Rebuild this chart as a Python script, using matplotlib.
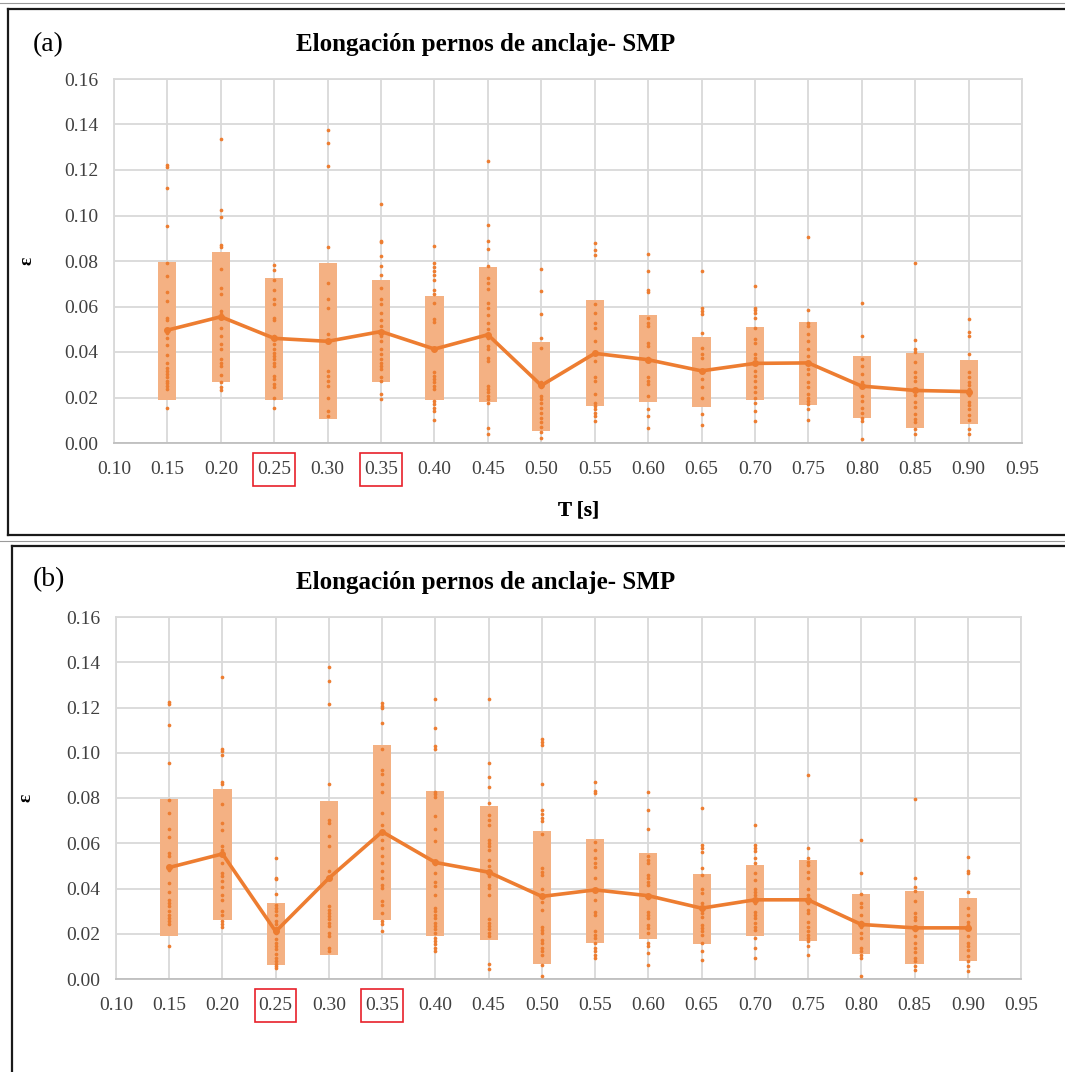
import matplotlib
matplotlib.use("Agg")
import matplotlib.pyplot as plt
from matplotlib.lines import Line2D
from matplotlib.patches import Rectangle
from matplotlib.transforms import blended_transform_factory

plt.rcParams['font.family'] = ['Liberation Serif', 'DejaVu Serif']

# ---------------- data ----------------
T = [0.15, 0.20, 0.25, 0.30, 0.35, 0.40, 0.45, 0.50, 0.55, 0.60,
     0.65, 0.70, 0.75, 0.80, 0.85, 0.90]
x_ticks = [0.10, 0.15, 0.20, 0.25, 0.30, 0.35, 0.40, 0.45, 0.50, 0.55,
           0.60, 0.65, 0.70, 0.75, 0.80, 0.85, 0.90, 0.95]
y_ticks = [0.00, 0.02, 0.04, 0.06, 0.08, 0.10, 0.12, 0.14, 0.16]
highlight_ticks = [0.25, 0.35]

title = "Elongación pernos de anclaje- SMP"
x_label = "T [s]"
y_label = "ε"
panel_labels = ["(a)", "(b)"]

# panel (a)
a_low = [0.0191, 0.0267, 0.0191, 0.0104, 0.0267, 0.0190, 0.0180, 0.0053,
         0.0162, 0.0180, 0.0159, 0.0190, 0.0169, 0.0110, 0.0067, 0.0083]
a_high = [0.0796, 0.0839, 0.0724, 0.0790, 0.0717, 0.0644, 0.0775, 0.0442,
          0.0629, 0.0562, 0.0467, 0.0512, 0.0534, 0.0384, 0.0394, 0.0366]
a_mean = [0.0496, 0.0555, 0.0460, 0.0447, 0.0490, 0.0413, 0.0476, 0.0253,
          0.0394, 0.0366, 0.0317, 0.0350, 0.0352, 0.0250, 0.0231, 0.0226]
a_pts = [
    [0.1222, 0.1215, 0.112, 0.0952, 0.0791, 0.0736, 0.0663, 0.0623, 0.055, 0.054,
     0.0492, 0.0485, 0.0463, 0.043, 0.0385, 0.0353, 0.0331, 0.0317, 0.0302, 0.0288,
     0.0273, 0.0263, 0.0251, 0.0239, 0.0152],
    [0.1336, 0.1022, 0.0993, 0.0869, 0.086, 0.0765, 0.0682, 0.0656, 0.058, 0.0569,
     0.055, 0.0507, 0.047, 0.0437, 0.0412, 0.0368, 0.0353, 0.0339, 0.0298, 0.0266,
     0.0248, 0.0234],
    [0.0781, 0.0762, 0.0715, 0.0672, 0.0634, 0.0609, 0.055, 0.054, 0.047, 0.0434,
     0.0412, 0.0397, 0.0383, 0.0368, 0.0353, 0.0339, 0.0295, 0.028, 0.0258, 0.0244,
     0.020, 0.0156],
    [0.1378, 0.132, 0.1218, 0.086, 0.0704, 0.0631, 0.0594, 0.0477, 0.0317, 0.0295,
     0.0273, 0.0251, 0.020, 0.0142, 0.012],
    [0.1051, 0.0889, 0.0882, 0.0823, 0.078, 0.074, 0.0682, 0.0634, 0.0609, 0.0572,
     0.054, 0.0514, 0.0492, 0.047, 0.0448, 0.0415, 0.039, 0.0368, 0.0353, 0.0339,
     0.0324, 0.0288, 0.0273, 0.0215, 0.0193],
    [0.0867, 0.0791, 0.0774, 0.0755, 0.074, 0.0718, 0.0672, 0.0657, 0.0616, 0.0543,
     0.0531, 0.0415, 0.031, 0.0295, 0.028, 0.0266, 0.0251, 0.0237, 0.0185, 0.0171,
     0.0156, 0.0142, 0.0102],
    [0.1241, 0.0959, 0.0889, 0.0853, 0.0777, 0.0726, 0.0704, 0.0675, 0.0616, 0.0594,
     0.0561, 0.0529, 0.0499, 0.0463, 0.0426, 0.0412, 0.0375, 0.0361, 0.0251, 0.0237,
     0.0222, 0.0207, 0.0193, 0.0178, 0.0064, 0.0039],
    [0.0765, 0.0667, 0.0565, 0.0463, 0.0419, 0.0266, 0.0244, 0.0207, 0.0193, 0.0178,
     0.0156, 0.0134, 0.0112, 0.0091, 0.0069, 0.0047, 0.002],
    [0.0879, 0.085, 0.0828, 0.0609, 0.0572, 0.0526, 0.0507, 0.0448, 0.0397, 0.0361,
     0.0288, 0.0273, 0.0215, 0.0178, 0.0164, 0.0149, 0.0134, 0.012, 0.0098],
    [0.0832, 0.0755, 0.0672, 0.0663, 0.055, 0.0529, 0.0514, 0.0441, 0.0426, 0.0375,
     0.0288, 0.0273, 0.0258, 0.0207, 0.0149, 0.012, 0.0064],
    [0.0758, 0.0594, 0.058, 0.0565, 0.0482, 0.0419, 0.039, 0.0375, 0.0317, 0.028,
     0.0244, 0.020, 0.0127, 0.0079],
    [0.0689, 0.0594, 0.0584, 0.0572, 0.055, 0.0507, 0.0456, 0.0441, 0.039, 0.0375,
     0.0353, 0.0317, 0.0295, 0.0273, 0.0244, 0.0222, 0.020, 0.0178, 0.0142, 0.0098],
    [0.0905, 0.0584, 0.0529, 0.0514, 0.0477, 0.0448, 0.0412, 0.0383, 0.0353, 0.0324,
     0.0302, 0.0266, 0.0244, 0.0215, 0.020, 0.0185, 0.0171, 0.0149, 0.0102],
    [0.0616, 0.047, 0.0371, 0.0339, 0.0302, 0.0266, 0.0244, 0.0207, 0.0185, 0.0156,
     0.0134, 0.0112, 0.0098, 0.0018],
    [0.079, 0.0454, 0.0413, 0.0399, 0.0355, 0.0311, 0.0289, 0.0274, 0.0238, 0.0209,
     0.018, 0.0158, 0.0128, 0.0107, 0.0092, 0.0063, 0.0041],
    [0.0545, 0.0486, 0.0472, 0.0391, 0.0311, 0.0289, 0.0267, 0.0253, 0.0238, 0.0209,
     0.018, 0.0165, 0.015, 0.0121, 0.0099, 0.0063, 0.0041],
]

# panel (b)
b_low = [0.0191, 0.0262, 0.0060, 0.0104, 0.0262, 0.0191, 0.0174, 0.0068,
         0.0160, 0.0175, 0.0153, 0.0191, 0.0168, 0.0110, 0.0068, 0.0081]
b_high = [0.0794, 0.0840, 0.0338, 0.0787, 0.1036, 0.0833, 0.0766, 0.0656,
          0.0619, 0.0556, 0.0462, 0.0506, 0.0528, 0.0375, 0.0391, 0.0360]
b_mean = [0.0493, 0.0553, 0.0210, 0.0446, 0.0651, 0.0515, 0.0472, 0.0365,
          0.0394, 0.0368, 0.0313, 0.0350, 0.0350, 0.0241, 0.0226, 0.0226]
b_pts = [
    [0.1225, 0.1215, 0.1123, 0.0956, 0.0791, 0.0735, 0.0663, 0.0627, 0.0557, 0.0545,
     0.049, 0.048, 0.0425, 0.0384, 0.0351, 0.0337, 0.0322, 0.030, 0.0285, 0.0271,
     0.0256, 0.0242, 0.0146],
    [0.1337, 0.1018, 0.1007, 0.0988, 0.0871, 0.0864, 0.0772, 0.0688, 0.0659, 0.0586,
     0.0571, 0.0549, 0.0512, 0.0469, 0.0454, 0.0432, 0.0406, 0.0373, 0.0351, 0.030,
     0.0285, 0.0256, 0.0242, 0.0231],
    [0.0534, 0.0447, 0.0442, 0.0376, 0.0329, 0.0315, 0.030, 0.0285, 0.0256, 0.0242,
     0.0227, 0.0205, 0.0176, 0.0161, 0.0146, 0.0132, 0.011, 0.0095, 0.0081, 0.0066,
     0.0056, 0.0047],
    [0.1381, 0.1318, 0.1215, 0.0864, 0.0703, 0.0688, 0.0634, 0.059, 0.0476, 0.0447,
     0.0322, 0.0307, 0.0293, 0.0278, 0.0264, 0.0249, 0.0234, 0.0205, 0.019, 0.0139,
     0.0124],
    [0.1218, 0.1208, 0.1198, 0.113, 0.1015, 0.0922, 0.0908, 0.0864, 0.0827, 0.0735,
     0.0681, 0.0652, 0.0615, 0.0578, 0.0542, 0.0512, 0.0476, 0.0447, 0.0417, 0.0403,
     0.0344, 0.0329, 0.0293, 0.0256, 0.0242, 0.0212],
    [0.1237, 0.1108, 0.1032, 0.1018, 0.0827, 0.0817, 0.0805, 0.072, 0.0663, 0.0611,
     0.051, 0.0469, 0.0428, 0.0413, 0.0373, 0.0315, 0.030, 0.0285, 0.0271, 0.0249,
     0.0234, 0.022, 0.0205, 0.0183, 0.0168, 0.0154, 0.0139, 0.0124],
    [0.1237, 0.0956, 0.0893, 0.0849, 0.0779, 0.0725, 0.0703, 0.0681, 0.0615, 0.060,
     0.0586, 0.0571, 0.0527, 0.0498, 0.0454, 0.0417, 0.0403, 0.0373, 0.0264, 0.0249,
     0.0234, 0.022, 0.0205, 0.019, 0.0066, 0.0044],
    [0.1061, 0.1049, 0.1035, 0.0863, 0.0748, 0.0731, 0.0713, 0.0697, 0.064, 0.0489,
     0.0474, 0.0459, 0.0396, 0.0342, 0.0305, 0.0232, 0.0217, 0.0203, 0.0173, 0.0158,
     0.0136, 0.0122, 0.0107, 0.0063, 0.0015],
    [0.087, 0.0833, 0.0822, 0.0606, 0.0569, 0.0533, 0.0511, 0.0496, 0.0445, 0.0393,
     0.0349, 0.0298, 0.0283, 0.021, 0.0195, 0.018, 0.0158, 0.0136, 0.0122, 0.0107,
     0.0092],
    [0.0826, 0.0748, 0.0662, 0.0543, 0.0528, 0.0511, 0.0459, 0.0445, 0.043, 0.0415,
     0.0357, 0.0298, 0.0283, 0.0269, 0.0239, 0.0225, 0.0203, 0.0158, 0.0144, 0.0114,
     0.0063],
    [0.0756, 0.0591, 0.0577, 0.0562, 0.0489, 0.0459, 0.040, 0.0379, 0.0335, 0.0305,
     0.0291, 0.0276, 0.0239, 0.0225, 0.021, 0.0195, 0.0158, 0.0122, 0.0085],
    [0.0682, 0.0591, 0.0581, 0.0566, 0.0533, 0.0511, 0.0467, 0.0437, 0.040, 0.0386,
     0.0371, 0.0335, 0.0298, 0.0283, 0.0269, 0.0247, 0.0232, 0.0217, 0.018, 0.0136,
     0.0092],
    [0.090, 0.0581, 0.0533, 0.0518, 0.0503, 0.0474, 0.0445, 0.040, 0.0371, 0.0335,
     0.0305, 0.0291, 0.0254, 0.0232, 0.021, 0.0195, 0.018, 0.0166, 0.0144, 0.0107],
    [0.0613, 0.0467, 0.0376, 0.0335, 0.032, 0.0283, 0.0254, 0.0232, 0.0203, 0.018,
     0.0136, 0.0122, 0.0107, 0.0092, 0.0015],
    [0.0794, 0.0446, 0.0406, 0.0391, 0.0343, 0.0291, 0.0276, 0.0262, 0.0218, 0.0188,
     0.0159, 0.0137, 0.0118, 0.0093, 0.0078, 0.0056, 0.0041],
    [0.0541, 0.0478, 0.0468, 0.0384, 0.0313, 0.0284, 0.0254, 0.024, 0.0225, 0.0188,
     0.0159, 0.0144, 0.0129, 0.010, 0.0078, 0.0056, 0.0034],
]

# ---------------- styling ----------------
W, H = 1065, 1072
LINE_C = '#ED7D31'
BAR_C = '#F4B183'
GRID_C = '#D9D9D9'
TICK_C = '#404040'

fig = plt.figure(figsize=(W / 100, H / 100), dpi=100)
fig.patch.set_facecolor('white')


def fx(px):
    return px / W


def fy(py):
    return 1 - py / H


def draw_panel(rect_px, low, high, mean, pts, label, title_y, label_y):
    l, t, r, b = rect_px
    ax = fig.add_axes([fx(l), fy(b), fx(r - l), (b - t) / H])
    ax.set_xlim(0.10, 0.95)
    ax.set_ylim(0.0, 0.16)
    ax.set_xticks(x_ticks)
    ax.set_yticks(y_ticks)
    ax.set_xticklabels([f"{v:.2f}" for v in x_ticks])
    ax.set_yticklabels([f"{v:.2f}" for v in y_ticks])
    ax.grid(True, color=GRID_C, linewidth=1.3, zorder=0)
    ax.set_axisbelow(True)
    for s in ax.spines.values():
        s.set_color(GRID_C)
        s.set_linewidth(1.3)
    ax.spines['bottom'].set_color('#BFBFBF')
    ax.tick_params(length=0, labelsize=14, labelcolor=TICK_C)
    ax.tick_params(axis='x', pad=13)
    ax.tick_params(axis='y', pad=11)

    heights = [h - lo for h, lo in zip(high, low)]
    ax.bar(T, heights, bottom=low, width=0.017, color=BAR_C, zorder=2,
           linewidth=0)
    for xv, ys in zip(T, pts):
        ax.scatter([xv] * len(ys), ys, s=7, color=LINE_C, zorder=3,
                   linewidths=0)
    ax.plot(T, mean, color=LINE_C, linewidth=2.6, marker='o', markersize=4,
            zorder=4, solid_joinstyle='round')

    ax.set_xlabel(x_label, fontsize=15, fontweight='bold', labelpad=8)
    ax.xaxis.set_label_coords((578 - l) / (r - l), -(500 - b) / (b - t))
    ax.set_ylabel(y_label, fontsize=14, fontweight='bold', rotation=90)
    ax.yaxis.set_label_coords(-(l - 35) / (r - l), 0.5)

    # red boxes around highlighted tick labels
    tr = blended_transform_factory(ax.transData, ax.transAxes)
    h_ax = b - t
    for v in highlight_ticks:
        rect = Rectangle((v - 0.0195, -(43) / h_ax), 0.039, 33 / h_ax,
                         transform=tr, fill=False, edgecolor='#E8202A',
                         linewidth=1.2, clip_on=False, zorder=5)
        ax.add_patch(rect)

    fig.text(fx(486), fy(title_y), title, fontsize=18, fontweight='bold',
             ha='center', va='center', color='black')
    fig.text(fx(33), fy(label_y), label, fontsize=20, ha='left',
             va='center', color='black')
    return ax


draw_panel((114, 79, 1022, 443), a_low, a_high, a_mean, a_pts,
           panel_labels[0], 45, 45)
draw_panel((116, 617, 1021, 979), b_low, b_high, b_mean, b_pts,
           panel_labels[1], 583, 580)

# panel frames
frame_kw = dict(color='#1a1a1a', linewidth=1.6, transform=fig.transFigure)
# panel (a)
fig.add_artist(Line2D([fx(8), fx(1065)], [fy(9), fy(9)], **frame_kw))
fig.add_artist(Line2D([fx(8), fx(8)], [fy(9), fy(535)], **frame_kw))
fig.add_artist(Line2D([fx(8), fx(1065)], [fy(535), fy(535)], **frame_kw))
# panel (b)
fig.add_artist(Line2D([fx(12), fx(1065)], [fy(546), fy(546)], **frame_kw))
fig.add_artist(Line2D([fx(12), fx(12)], [fy(546), fy(1072)], **frame_kw))
# faint outer lines
thin_kw = dict(color='#9a9a9a', linewidth=0.8, transform=fig.transFigure)
fig.add_artist(Line2D([0, 1], [fy(3), fy(3)], **thin_kw))
fig.add_artist(Line2D([0, 1], [fy(541), fy(541)], **thin_kw))

fig.savefig('out.png', dpi=100, facecolor='white')
